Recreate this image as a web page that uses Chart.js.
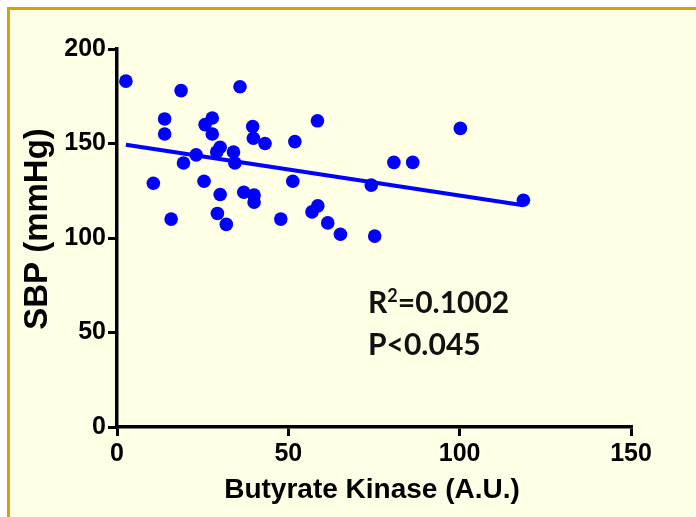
<!DOCTYPE html>
<html><head><meta charset="utf-8">
<script src="https://cdn.jsdelivr.net/npm/chart.js@4.4.1/dist/chart.umd.min.js"></script>
<style>
html,body{margin:0;padding:0;background:#fff;width:696px;height:517px;overflow:hidden}
#frame{position:absolute;left:7px;top:7px;width:720px;height:540px;border-top:3px solid #D9A106;border-left:3px solid #D9A106;background:#FFFFE6}
#wrap{position:absolute;left:0;top:0;width:696px;height:517px}
</style></head><body>
<div id="frame"></div>
<div id="wrap"><canvas id="c" width="696" height="517"></canvas></div>
<script>
// Data
const butyrateKinase = [2.6, 18.7, 35.9, 13.9, 13.9, 27.8, 25.7, 27.8, 39.6, 39.8,
  43.2, 51.9, 58.5, 30.1, 29.1, 23.1, 34.0, 34.4, 19.4, 10.6,
  25.4, 51.3, 30.1, 37.0, 40.0, 40.0, 15.8, 29.3, 31.9, 47.8,
  56.9, 58.6, 100.2, 80.8, 86.3, 74.2, 118.6, 61.5, 65.2, 75.2];
const sbp = [183, 178, 180, 163, 155, 163.5, 160, 155, 159, 152.8,
  150, 151, 162, 148, 145.5, 144, 145.5, 139.7, 139.7, 129,
  130, 130, 123, 124.2, 122.7, 119, 110, 113, 107.2, 110,
  113.8, 117, 158, 140, 140, 128, 120, 108, 102, 101];
// Regression line end points (as drawn)
const fitX = [2.6, 118.6];
const fitY = [149.3, 117.3];
const xTicks = [0, 50, 100, 150];
const yTicks = [0, 50, 100, 150, 200];
const xTitle = 'Butyrate Kinase (A.U.)';
const yTitle = 'SBP (mmHg)';
const statR = ['R', '2', '=0.1002'];
const statP = 'P<0.045';

const points = butyrateKinase.map((x, i) => ({x: x, y: sbp[i]}));
const fitLine = fitX.map((x, i) => ({x: x, y: fitY[i]}));

const tickFont = {family: '"Liberation Sans", Arial, sans-serif', size: 25, weight: 'bold'};

const textPlugin = {
  id: 'texts',
  afterDraw(chart) {
    const ctx = chart.ctx;
    const ca = chart.chartArea;
    ctx.save();
    ctx.fillStyle = '#000';
    // x title
    ctx.font = 'bold 28px "Liberation Sans", Arial, sans-serif';
    ctx.textAlign = 'center';
    ctx.textBaseline = 'middle';
    ctx.fillText(xTitle, (ca.left + ca.right) / 2 - 2, 490);
    // y title
    ctx.save();
    ctx.translate(38, 229);
    ctx.rotate(-Math.PI / 2);
    ctx.font = 'bold 33px "Liberation Sans", Arial, sans-serif';
    ctx.fillText(yTitle, 0, 0);
    ctx.restore();
    // statistics
    ctx.textAlign = 'left';
    ctx.textBaseline = 'alphabetic';
    ctx.fillStyle = '#111';
    const big = 'bold 30px Lato, sans-serif';
    const small = 'bold 18px Lato, sans-serif';
    let x = 368, y = 313;
    ctx.font = big; ctx.fillText(statR[0], x, y); x += ctx.measureText(statR[0]).width;
    ctx.font = small; ctx.fillText(statR[1], x, y - 11); x += ctx.measureText(statR[1]).width;
    ctx.font = big; ctx.fillText(statR[2], x, y);
    ctx.fillText(statP, 368, 355);
    ctx.restore();
  }
};

new Chart(document.getElementById('c'), {
  data: {
    datasets: [
      {type: 'scatter', data: points, backgroundColor: '#0000FF', borderColor: '#0000FF',
       borderWidth: 0, pointRadius: 6.8, pointHoverRadius: 6.8},
      {type: 'line', data: fitLine, borderColor: '#0000FF', borderWidth: 4,
       pointRadius: 0, fill: false, tension: 0}
    ]
  },
  options: {
    responsive: false,
    animation: false,
    devicePixelRatio: 1,
    layout: {padding: {left: 0, top: 49, right: 65, bottom: 0}},
    plugins: {legend: {display: false}, tooltip: {enabled: false}, title: {display: false}},
    scales: {
      x: {
        type: 'linear', min: 0, max: 150,
        afterBuildTicks: s => { s.ticks = xTicks.map(v => ({value: v})); },
        afterFit: s => { s.height = 90; },
        grid: {display: true, drawOnChartArea: false, drawTicks: true, tickLength: 9, tickWidth: 3, color: '#000', lineWidth: 3},
        border: {display: true, color: '#000', width: 3.5},
        ticks: {color: '#000', font: tickFont, padding: 3, maxRotation: 0}
      },
      y: {
        type: 'linear', min: 0, max: 200,
        afterBuildTicks: s => { s.ticks = yTicks.map(v => ({value: v})); },
        afterFit: s => { s.width = 117; },
        grid: {display: true, drawOnChartArea: false, drawTicks: true, tickLength: 9, tickWidth: 3, color: '#000', lineWidth: 3},
        border: {display: true, color: '#000', width: 3.5},
        ticks: {color: '#000', font: tickFont, padding: 2}
      }
    }
  },
  plugins: [textPlugin]
});
</script>
</body></html>
